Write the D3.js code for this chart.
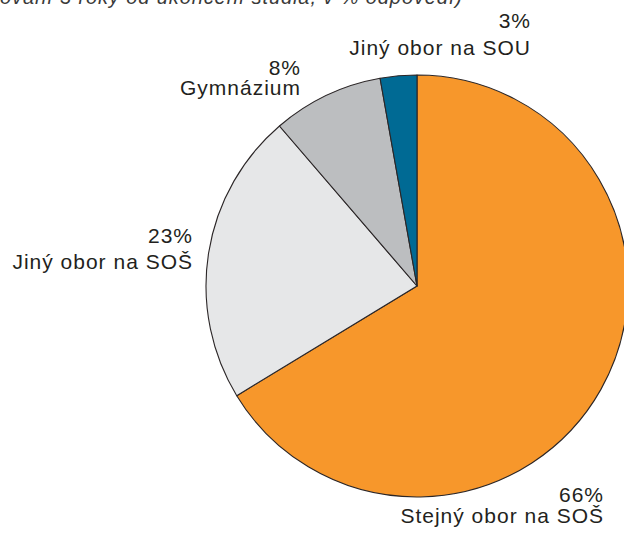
<!DOCTYPE html>
<html>
<head>
<meta charset="utf-8">
<script src="https://cdn.jsdelivr.net/npm/d3@7"></script>
<style>
  body { margin: 0; background: #fff; }
  text { font-family: "Liberation Sans", Arial, sans-serif; fill: #231f20; }
</style>
</head>
<body>
<div id="chart"></div>
<script>
const categories = ["Stejný obor na SOŠ", "Jiný obor na SOŠ", "Gymnázium", "Jiný obor na SOU"];
const values = [66.3, 22.4, 8.5, 2.8];
const percentLabels = ["66%", "23%", "8%", "3%"];
const colors = ["#f7972b", "#e6e7e8", "#bcbec0", "#006a94"];

// where each label block sits: right edge, baseline of % line, baseline of name line
const labelPos = [
    {x: 604, y1: 502, y2: 523},
    {x: 193, y1: 243, y2: 269},
    {x: 301, y1: 75, y2: 95},
    {x: 531, y1: 28, y2: 55}
];

const width = 624, height = 537;
const cx = 417, cy = 286, radius = 211;

const svg = d3.select("#chart")
    .append("svg")
    .attr("width", width)
    .attr("height", height);

// caption, cut off by the top edge like in the source
svg.append("text")
    .attr("x", 0)
    .attr("y", 4)
    .attr("textLength", 462)
    .attr("lengthAdjust", "spacing")
    .style("font-size", "20px")
    .style("font-style", "italic")
    .style("fill", "#3a3a3a")
    .text("ovaní 3 roky od ukončení studia, v % odpovědí)");

const data = categories.map((c, i) => ({name: c, value: values[i], pct: percentLabels[i], color: colors[i]}));

const pie = d3.pie()
    .sort(null)
    .value(d => d.value);

const arc = d3.arc()
    .innerRadius(0)
    .outerRadius(radius);

const g = svg.append("g")
    .attr("transform", `translate(${cx},${cy})`);

g.selectAll("path")
    .data(pie(data))
    .join("path")
    .attr("d", arc)
    .attr("fill", d => d.data.color)
    .attr("stroke", "#2b2627")
    .attr("stroke-width", 1.1)
    .attr("stroke-linejoin", "round");

const labels = svg.selectAll("g.lbl")
    .data(data)
    .join("g")
    .attr("class", "lbl");

labels.append("text")
    .attr("x", (d, i) => labelPos[i].x)
    .attr("y", (d, i) => labelPos[i].y1)
    .attr("text-anchor", "end")
    .style("font-size", "21px")
    .style("letter-spacing", "1px")
    .text(d => d.pct);

labels.append("text")
    .attr("x", (d, i) => labelPos[i].x)
    .attr("y", (d, i) => labelPos[i].y2)
    .attr("text-anchor", "end")
    .style("font-size", "21px")
    .style("letter-spacing", "1px")
    .text(d => d.name);
</script>
</body>
</html>
